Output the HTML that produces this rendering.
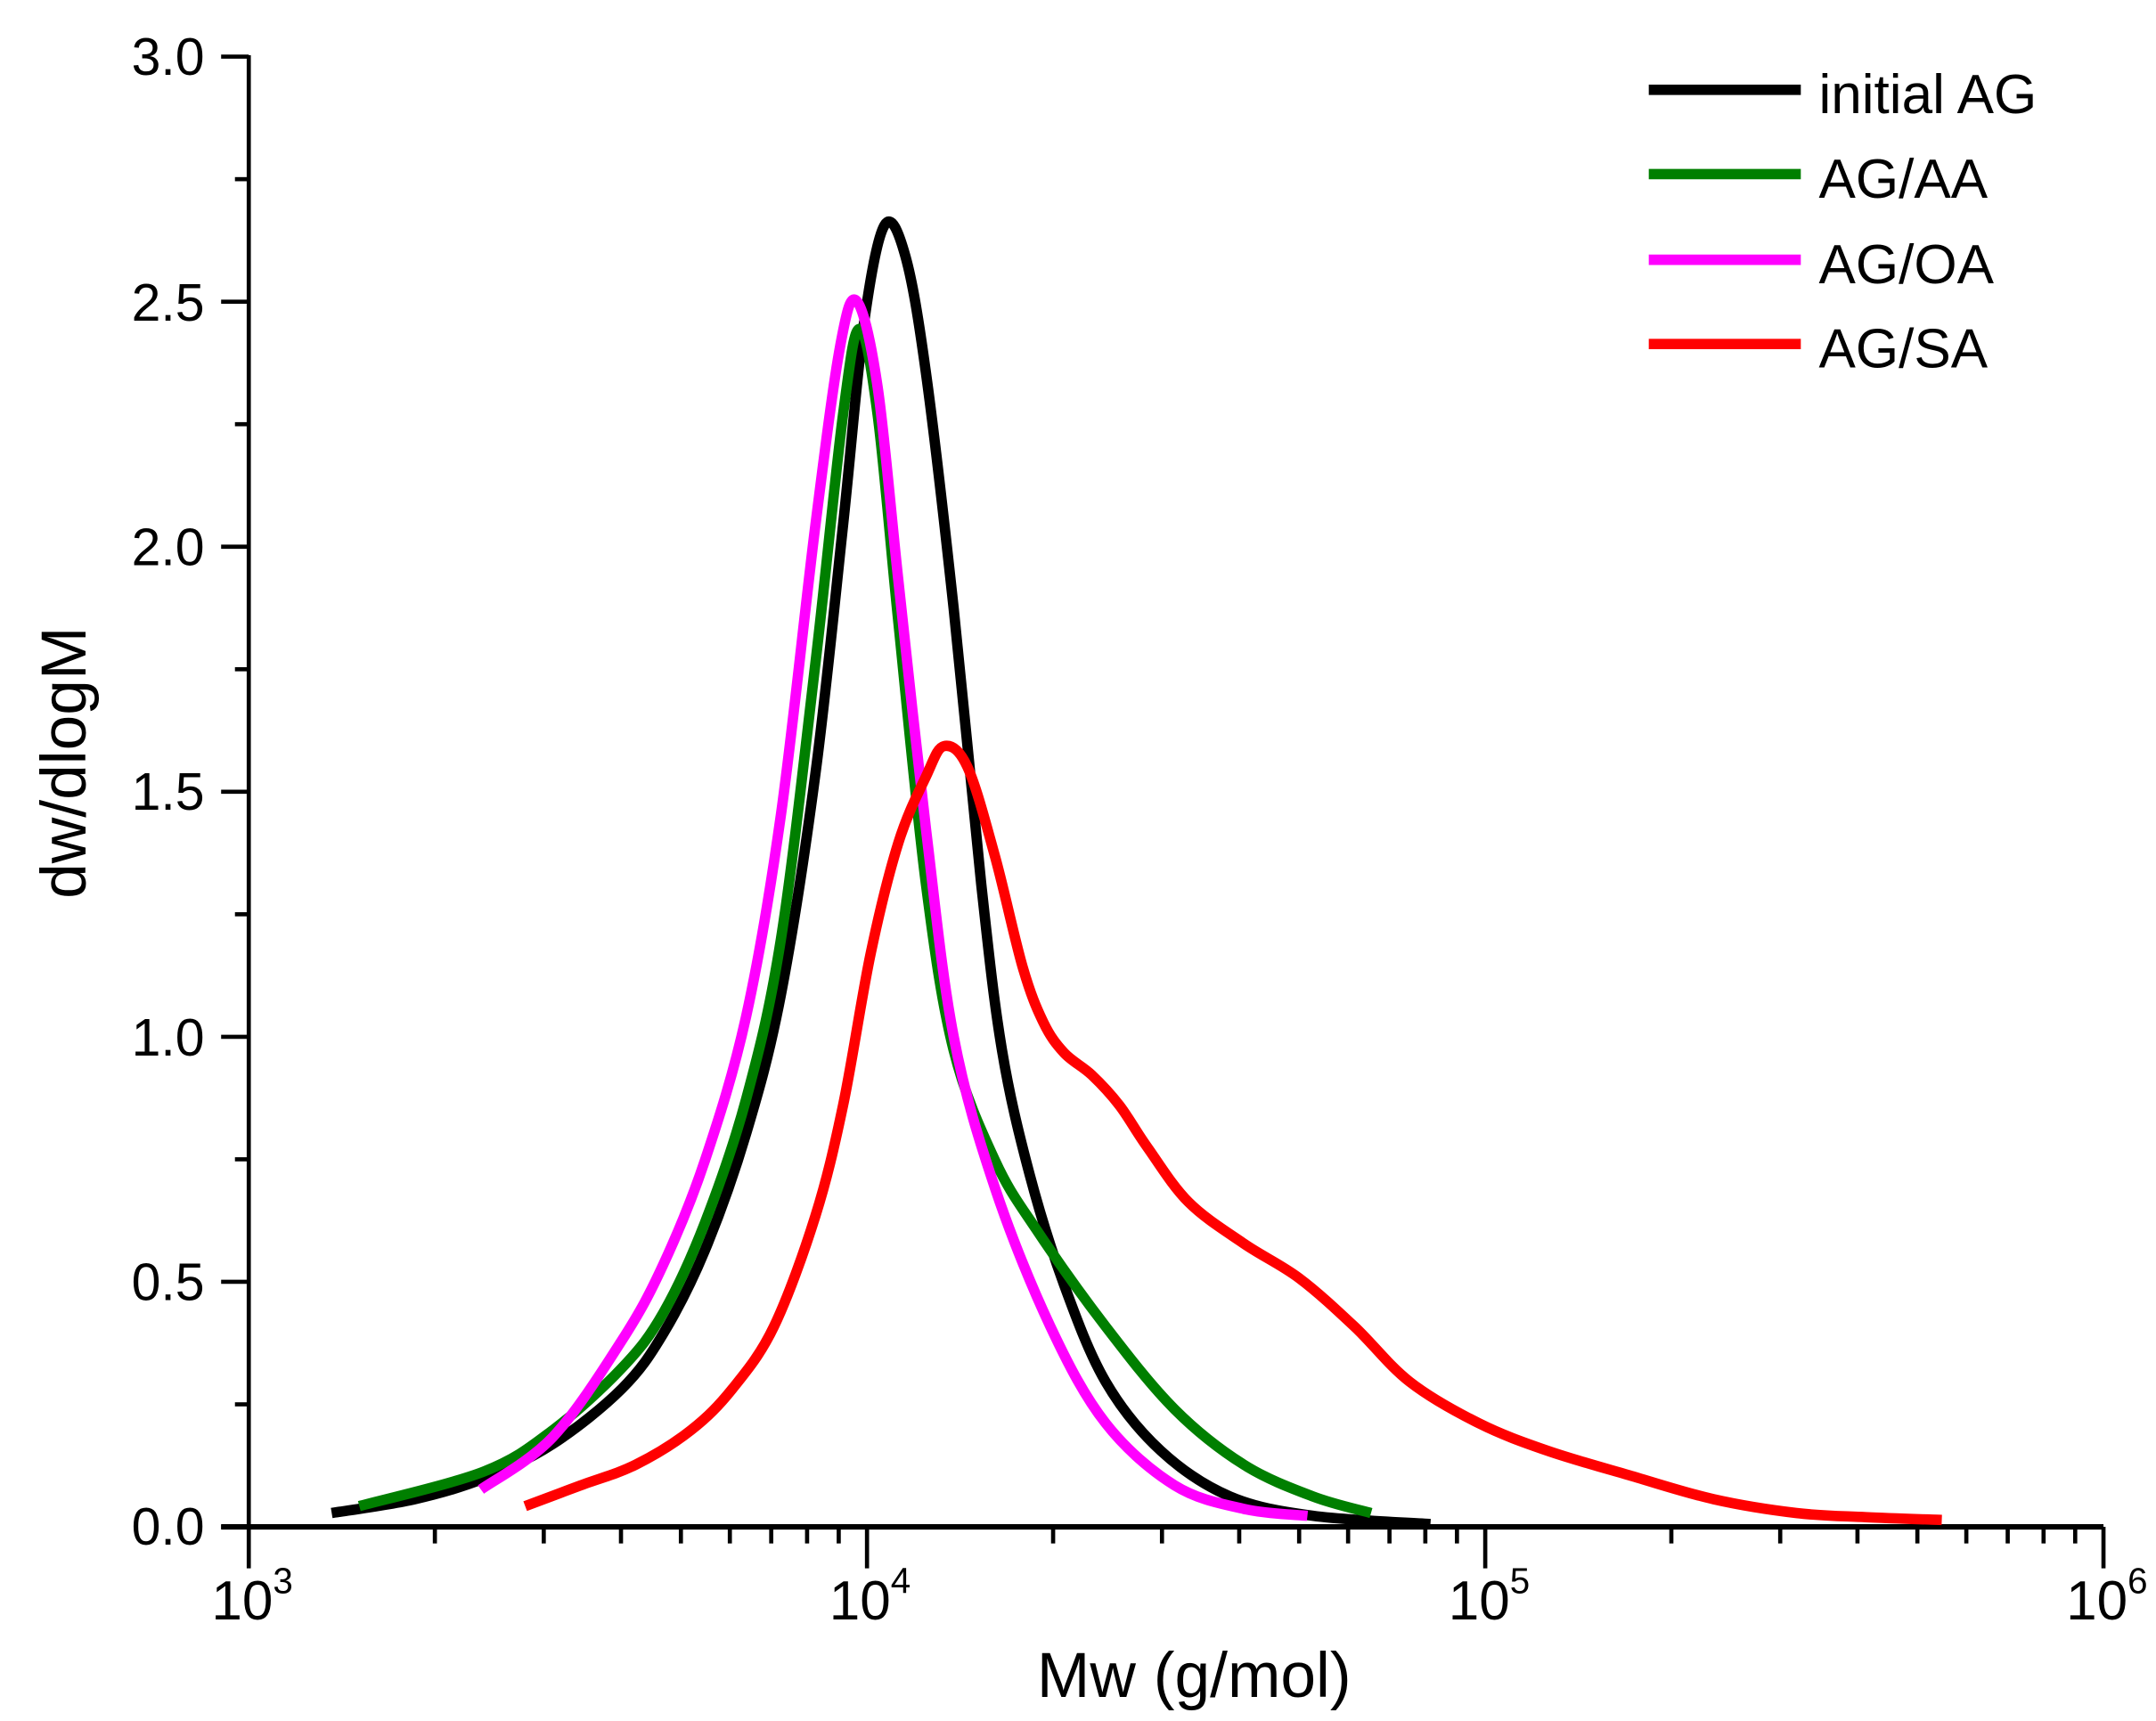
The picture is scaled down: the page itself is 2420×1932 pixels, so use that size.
<!DOCTYPE html>
<html><head><meta charset="utf-8"><style>
html,body{margin:0;padding:0;background:#fff;}
svg{display:block;}
text{font-family:"Liberation Sans",Arial,sans-serif;fill:#000;}
</style></head><body>
<svg id="s" width="2420" height="1932" viewBox="0 0 1560 1245.5" preserveAspectRatio="none" xmlns="http://www.w3.org/2000/svg">
<g id="axes" stroke="#000" stroke-width="3" fill="none"></g>
<g id="curves" fill="none" stroke-width="7.5" stroke-linejoin="round" stroke-linecap="butt"></g>
<g font-size="38" text-anchor="end">
<text x="148" y="1118">0.0</text>
<text x="148" y="941">0.5</text>
<text x="148" y="764">1.0</text>
<text x="148" y="586">1.5</text>
<text x="148" y="409">2.0</text>
<text x="148" y="232">2.5</text>
<text x="148" y="54">3.0</text>
</g>
<g font-size="40">
<text x="153" y="1172">10<tspan font-size="26" dy="-19">3</tspan></text>
<text x="600" y="1172">10<tspan font-size="26" dy="-19">4</tspan></text>
<text x="1048" y="1172">10<tspan font-size="26" dy="-19">5</tspan></text>
<text x="1495" y="1172">10<tspan font-size="26" dy="-19">6</tspan></text>
</g>
<text x="864" y="1228" font-size="46" text-anchor="middle">Mw (g/mol)</text>
<text transform="translate(62,552) rotate(-90)" font-size="46" text-anchor="middle">dw/dlogM</text>
<g stroke-width="7.5">
<line x1="1193" y1="65" x2="1303" y2="65" stroke="#000"/>
<line x1="1193" y1="126" x2="1303" y2="126" stroke="#007f00"/>
<line x1="1193" y1="188" x2="1303" y2="188" stroke="#ff00ff"/>
<line x1="1193" y1="249" x2="1303" y2="249" stroke="#ff0000"/>
</g>
<g font-size="40">
<text x="1316" y="82">initial AG</text>
<text x="1316" y="143">AG/AA</text>
<text x="1316" y="205">AG/OA</text>
<text x="1316" y="266">AG/SA</text>
</g>
</svg>
<script>
var NS="http://www.w3.org/2000/svg";
var ax=document.getElementById("axes");
function ln(x1,y1,x2,y2,w){var l=document.createElementNS(NS,"line");l.setAttribute("x1",x1);l.setAttribute("y1",y1);l.setAttribute("x2",x2);l.setAttribute("y2",y2);if(w)l.setAttribute("stroke-width",w);ax.appendChild(l);}
var X0=180,X1=1522,Y0=1105,Y1=41;
ln(X0,Y1-1,X0,Y0+1);ln(X0-20,Y0,X1,Y0,4);
for(var i=0;i<=6;i++){var y=Y0-i*(Y0-Y1)/6;ln(X0-20,y,X0,y);}
for(var i=0;i<6;i++){var y=Y0-(i+0.5)*(Y0-Y1)/6;ln(X0-10,y,X0,y);}
var dec=(X1-X0)/3;
for(var d=0;d<3;d++){for(var k=2;k<=9;k++){var x=X0+dec*(d+Math.log10(k));ln(x,Y0,x,Y0+12);}}
for(var d=0;d<=3;d++){var x=X0+dec*d;ln(x,Y0,x,Y0+30);}
function path(pts){
 var s="M"+pts[0][0]+","+pts[0][1];
 for(var i=0;i<pts.length-1;i++){
  var p0=pts[i-1]||pts[i],p1=pts[i],p2=pts[i+1],p3=pts[i+2]||p2;
  var c1=[p1[0]+(p2[0]-p0[0])/6,p1[1]+(p2[1]-p0[1])/6];
  var c2=[p2[0]-(p3[0]-p1[0])/6,p2[1]-(p3[1]-p1[1])/6];
  s+=" C"+c1[0]+","+c1[1]+" "+c2[0]+","+c2[1]+" "+p2[0]+","+p2[1];
 }return s;}
var series=[
["#000",[[240,1095],[300,1085],[350,1070],[400,1045],[450,1005],[480,965],[510,905],[540,820],[565,720],[590,560],[610,380],[625,235],[640,163],[655,185],[670,270],[690,440],[710,640],[725,760],[745,850],[770,930],[800,1000],[840,1050],[890,1083],[950,1097],[1035,1103]]],
["#007f00",[[260,1090],[350,1065],[400,1035],[450,990],[480,950],[510,885],[540,795],[565,680],[590,480],[610,300],[622,238],[635,300],[650,450],[670,640],[690,760],[720,840],[750,890],[800,960],[850,1020],[900,1060],[950,1083],[992,1095]]],
["#ff00ff",[[348,1078],[400,1040],[450,970],[480,915],[510,840],[540,735],[565,590],[590,380],[608,250],[620,218],[635,280],[650,420],[670,600],[690,750],[720,860],[760,960],[800,1030],[850,1075],[900,1092],[946,1097]]],
["#ff0000",[[380,1090],[420,1075],[460,1060],[500,1035],[530,1005],[560,960],[590,880],[610,800],[630,690],[650,610],[670,562],[683,540],[700,555],[720,620],[740,700],[755,740],[770,762],[790,778],[810,800],[830,830],[860,870],[900,900],[940,925],[980,960],[1020,1000],[1070,1030],[1120,1050],[1180,1068],[1240,1085],[1300,1095],[1350,1098],[1405,1100]]]
];
var g=document.getElementById("curves");
series.forEach(function(s){var p=document.createElementNS(NS,"path");p.setAttribute("d",path(s[1]));p.setAttribute("stroke",s[0]);g.appendChild(p);});
</script>
</body></html>
